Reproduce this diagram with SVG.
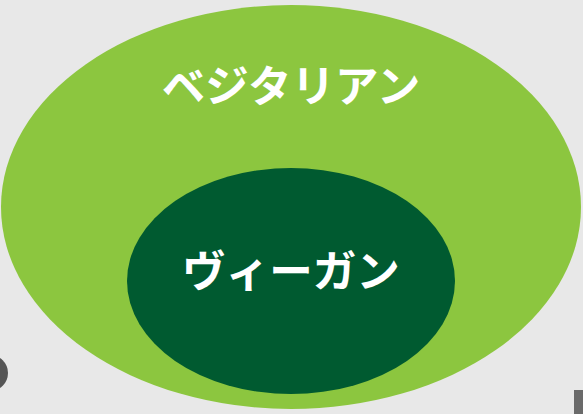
<svg xmlns="http://www.w3.org/2000/svg" width="583" height="414" viewBox="0 0 583 414">
<style>
.lbl{font-family:"Noto Sans CJK JP","Noto Sans",sans-serif;font-weight:bold;font-size:43.5px;fill:#ffffff;text-anchor:middle}
</style>
<rect width="583" height="414" fill="#e8e8e8"/>
<g id="vegetarian">
<ellipse cx="291" cy="207" rx="290" ry="202" fill="#8cc63f"/>
<text class="lbl" x="291" y="102">ベジタリアン</text>
</g>
<g id="vegan">
<ellipse cx="291" cy="281" rx="164" ry="113" fill="#005a30"/>
<text class="lbl" x="291" y="287">ヴィーガン</text>
</g>
<g id="connectors"></g>
<circle cx="-10" cy="373" r="18" fill="#555555"/>
<rect x="574" y="390" width="9" height="24" fill="#6a6a6a"/>
</svg>
